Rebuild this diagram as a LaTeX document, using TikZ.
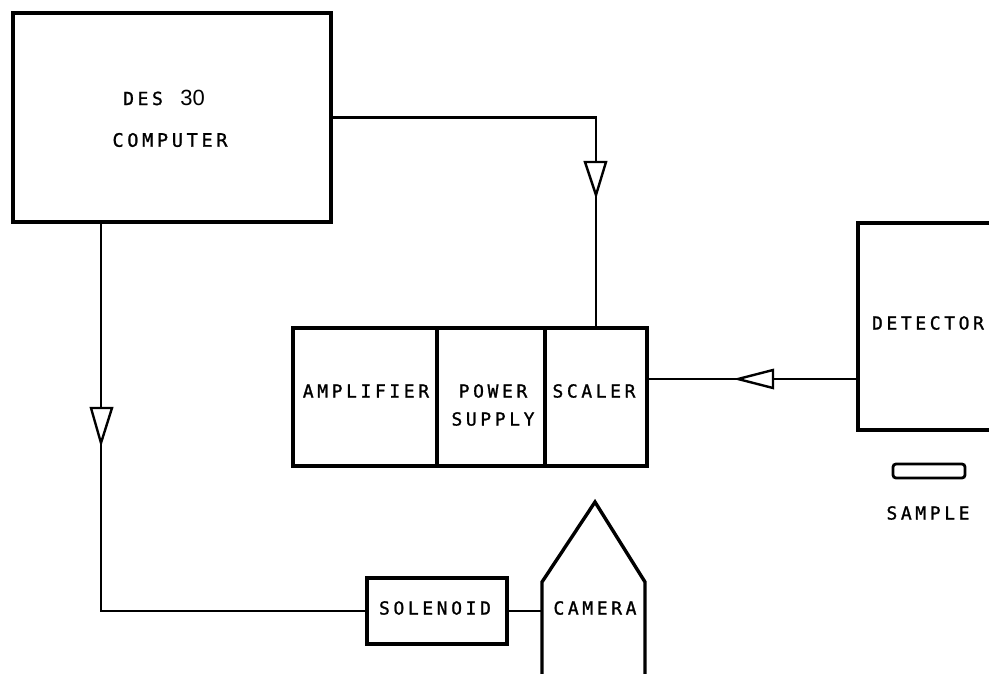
\documentclass[tikz,border=0pt]{standalone}
\usepackage{fontspec}
\setmainfont{DejaVu Sans Mono}[LetterSpace=20,FakeBold=1.2]
\newfontfamily\numfont{Liberation Sans}
\begin{document}
\begin{tikzpicture}[x=1pt,y=-1pt,
  box/.style={draw, line width=3.4pt, inner sep=0pt},
  lbl/.style={inner sep=0pt, font=\fontsize{18}{21}\selectfont, align=center},
  wire/.style={line width=2.2pt},
  tri/.style={draw, line width=2.4pt, fill=white, line join=miter}]
\useasboundingbox (0,0) rectangle (989,673);
\clip (0,0) rectangle (989,673);
% boxes
\node[box, minimum width=318pt, minimum height=209pt] (computer) at (172,117.5) {};
\node[box, minimum width=144pt, minimum height=138pt] (amp) at (365,397) {};
\node[box, minimum width=108pt, minimum height=138pt] (power) at (491,397) {};
\node[box, minimum width=102pt, minimum height=138pt] (scaler) at (596,397) {};
\node[box, minimum width=137pt, minimum height=207pt] (detector) at (926.5,326.5) {};
\node[draw, line width=2.8pt, rounded corners=3pt, minimum width=72pt, minimum height=14pt, inner sep=0pt] (sample) at (929,471) {};
\node[box, minimum width=140pt, minimum height=66pt] (solenoid) at (437,611) {};
\draw[line width=3.4pt, line join=miter] (542,690) -- (542,582) -- (595,502) -- (645,582) -- (645,690);
\coordinate (camL) at (542,611);
% labels
\node[lbl, anchor=base] (t1) at (164,105) {DES\, {\numfont\fontsize{22}{22}\selectfont 30}};
\node[lbl, font=\fontsize{18.5}{21}\selectfont] (t2) at (170,140) {COMPUTER};
\node[lbl] (t3) at (366,391) {AMPLIFIER};
\node[lbl] (t4) at (493,405) {POWER\\[7pt]SUPPLY};
\node[lbl] (t5) at (594,391) {SCALER};
\node[lbl] (t6) at (928,323) {DETECTOR};
\node[lbl] (t7) at (928,513) {SAMPLE};
\node[lbl] (t8) at (435,608) {SOLENOID};
\node[lbl] (camera) at (595,608) {CAMERA};
% connectors
\draw[wire] (computer.east) -| (scaler.north);
\draw[wire] ([xshift=-71pt]computer.south) |- (solenoid.west);
\draw[wire] (solenoid.east) -- (camL);
\draw[wire] ([yshift=18pt]scaler.east) -- ([yshift=18pt]scaler.east -| detector.west);
% open arrowheads
\draw[tri] (585,162) -- (606,162) -- (596,195) -- cycle;
\draw[tri] (91,408) -- (112,408) -- (101,443) -- cycle;
\draw[tri] (773,370) -- (773,388) -- (738,379) -- cycle;
\end{tikzpicture}
\end{document}
